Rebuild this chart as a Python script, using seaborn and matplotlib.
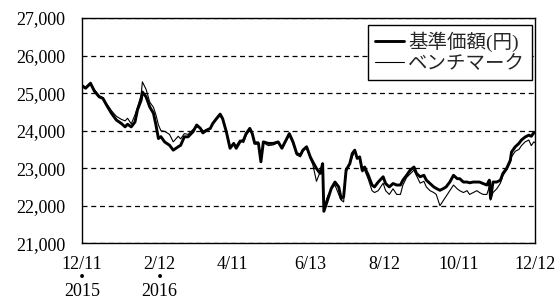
import pandas as pd
import matplotlib
matplotlib.use("Agg")
import matplotlib.pyplot as plt
from matplotlib.ticker import FuncFormatter
import seaborn as sns

# ====== データ ======
dates = [
    "2015-12-11", "2015-12-14", "2015-12-18", "2015-12-21", "2015-12-25", "2015-12-28", "2015-12-31",
    "2016-01-04", "2016-01-08", "2016-01-12", "2016-01-15", "2016-01-17", "2016-01-20", "2016-01-23",
    "2016-01-25", "2016-01-28", "2016-01-29", "2016-02-01", "2016-02-04", "2016-02-07", "2016-02-09",
    "2016-02-11", "2016-02-13", "2016-02-16", "2016-02-20", "2016-02-23", "2016-02-27", "2016-02-29",
    "2016-03-03", "2016-03-06", "2016-03-10", "2016-03-13", "2016-03-16", "2016-03-18", "2016-03-21",
    "2016-03-24", "2016-03-26", "2016-03-29", "2016-04-01", "2016-04-03", "2016-04-06", "2016-04-09",
    "2016-04-12", "2016-04-14", "2016-04-17", "2016-04-20", "2016-04-22", "2016-04-25", "2016-04-27",
    "2016-04-29", "2016-05-02", "2016-05-04", "2016-05-06", "2016-05-10", "2016-05-14", "2016-05-18",
    "2016-05-21", "2016-05-25", "2016-05-27", "2016-05-30", "2016-06-02", "2016-06-05", "2016-06-07",
    "2016-06-10", "2016-06-13", "2016-06-15", "2016-06-18", "2016-06-21", "2016-06-23", "2016-06-24",
    "2016-06-27", "2016-06-30", "2016-07-03", "2016-07-06", "2016-07-08", "2016-07-10", "2016-07-12",
    "2016-07-15", "2016-07-17", "2016-07-19", "2016-07-21", "2016-07-23", "2016-07-25", "2016-07-27",
    "2016-07-30", "2016-08-02", "2016-08-04", "2016-08-07", "2016-08-11", "2016-08-13", "2016-08-16",
    "2016-08-19", "2016-08-22", "2016-08-25", "2016-08-27", "2016-08-30", "2016-09-02", "2016-09-05",
    "2016-09-07", "2016-09-10", "2016-09-13", "2016-09-15", "2016-09-18", "2016-09-21", "2016-09-23",
    "2016-09-26", "2016-09-29", "2016-10-01", "2016-10-04", "2016-10-07", "2016-10-10", "2016-10-12",
    "2016-10-15", "2016-10-18", "2016-10-20", "2016-10-23", "2016-10-26", "2016-10-28", "2016-10-31",
    "2016-11-03", "2016-11-05", "2016-11-06", "2016-11-08", "2016-11-11", "2016-11-14", "2016-11-16",
    "2016-11-19", "2016-11-22", "2016-11-23", "2016-11-26", "2016-11-29", "2016-12-01", "2016-12-04",
    "2016-12-07", "2016-12-09", "2016-12-11", "2016-12-12",
]

fund = [
    25200, 25130, 25260, 25060, 24900, 24860, 24680,
    24460, 24280, 24190, 24100, 24170, 24100, 24230,
    24550, 24810, 25030, 24900, 24630, 24460, 24150,
    23790, 23840, 23700, 23610, 23480, 23570, 23610,
    23835, 23835, 23970, 24150, 24060, 23940, 24010,
    24060, 24190, 24320, 24440, 24320, 23970, 23530,
    23660, 23530, 23700, 23750, 23920, 24060, 23920,
    23660, 23660, 23170, 23700, 23660, 23660, 23700,
    23530, 23790, 23920, 23700, 23390, 23350, 23480,
    23570, 23300, 23170, 22990, 22860, 23120, 21850,
    22150, 22460, 22630, 22500, 22190, 22240, 22950,
    23120, 23390, 23480, 23260, 23300, 22950, 23030,
    22810, 22550, 22500, 22630, 22770, 22590, 22500,
    22590, 22550, 22550, 22680, 22810, 22950, 23030,
    22860, 22770, 22810, 22680, 22590, 22500, 22460,
    22410, 22460, 22500, 22630, 22810, 22720, 22720,
    22630, 22630, 22610, 22630, 22630, 22630, 22590,
    22550, 22680, 22190, 22630, 22630, 22680, 22860,
    22990, 23210, 23430, 23570, 23660, 23750, 23830,
    23880, 23850, 23940, 23960,
]

bench = [
    25230, 25150, 25290, 25100, 24930, 24880, 24720,
    24530, 24380, 24300, 24260, 24330, 24180, 24420,
    24620, 24950, 25300, 25100, 24760, 24620, 24420,
    24150, 24000, 23980, 23900, 23700, 23850, 23780,
    23920, 23900, 24030, 24100, 24080, 23990, 24030,
    24050, 24170, 24300, 24400, 24290, 23990, 23580,
    23620, 23600, 23750, 23680, 23870, 24020, 23950,
    23700, 23700, 23250, 23680, 23600, 23620, 23680,
    23560, 23760, 23880, 23650, 23350, 23300, 23450,
    23560, 23250, 23100, 22650, 22900, 23050, 21950,
    22250, 22450, 22550, 22300, 22150, 22100, 22900,
    23100, 23300, 23450, 23300, 23250, 22900, 22950,
    22700, 22400, 22350, 22400, 22600, 22400, 22300,
    22450, 22300, 22300, 22550, 22750, 22850, 22950,
    22800, 22600, 22650, 22500, 22400, 22350, 22300,
    22000, 22150, 22250, 22400, 22550, 22450, 22400,
    22350, 22400, 22300, 22350, 22400, 22350, 22300,
    22300, 22500, 22150, 22350, 22450, 22600, 22800,
    22950, 23150, 23300, 23450, 23500, 23600, 23700,
    23750, 23600, 23700, 23680,
]

tick_dates = ["2015-12-11", "2016-02-12", "2016-04-11", "2016-06-13",
              "2016-08-12", "2016-10-11", "2016-12-12"]
tick_labels = ["12/11\n・\n2015", "2/12\n・\n2016", "4/11", "6/13", "8/12", "10/11", "12/12"]
y_ticks = [21000, 22000, 23000, 24000, 25000, 26000, 27000]
series_names = ["基準価額(円)", "ベンチマーク"]

# ====== 描画 ======
sns.set_style("white")
plt.rcParams['font.family'] = ['Liberation Serif', 'Noto Sans CJK JP', 'DejaVu Sans']

df = pd.DataFrame({"date": pd.to_datetime(dates), "fund": fund, "bench": bench})

fig = plt.figure(figsize=(5.57, 3.01), dpi=100)
ax = fig.add_axes([0.147, 0.192, 0.8135, 0.748])

sns.lineplot(data=df, x="date", y="fund", ax=ax, color="black", linewidth=2.1, label=series_names[0])
sns.lineplot(data=df, x="date", y="bench", ax=ax, color="black", linewidth=0.8, label=series_names[1])

ax.set_xlim(pd.Timestamp("2015-12-11"), pd.Timestamp("2016-12-12"))
ax.set_ylim(21000, 27000)
ax.set_yticks(y_ticks)
ax.yaxis.set_major_formatter(FuncFormatter(lambda v, p: f"{int(v):,}"))
ax.set_xticks(pd.to_datetime(tick_dates))
ax.set_xticklabels(tick_labels, linespacing=0.7)
ax.set_xlabel("")
ax.set_ylabel("")

ax.yaxis.grid(True, linestyle=(0, (4, 3)), color="black", linewidth=0.9)
ax.xaxis.grid(False)
for s in ax.spines.values():
    s.set_color("black")
    s.set_linewidth(1.0)
ax.tick_params(axis="y", direction="inout", length=7, width=1, labelsize=13, colors="black", pad=8.5)
ax.tick_params(axis="x", direction="in", length=5, width=1, labelsize=13, colors="black", pad=9.5)

leg = ax.legend(loc="upper right", bbox_to_anchor=(0.9934, 0.969), frameon=True, fancybox=False,
                edgecolor="black", framealpha=1, fontsize=14, handlelength=1.5,
                borderpad=0.35, labelspacing=0.15, handletextpad=0.2, borderaxespad=0)
leg.get_frame().set_linewidth(1.0)

fig.savefig("out.png", dpi=100)
